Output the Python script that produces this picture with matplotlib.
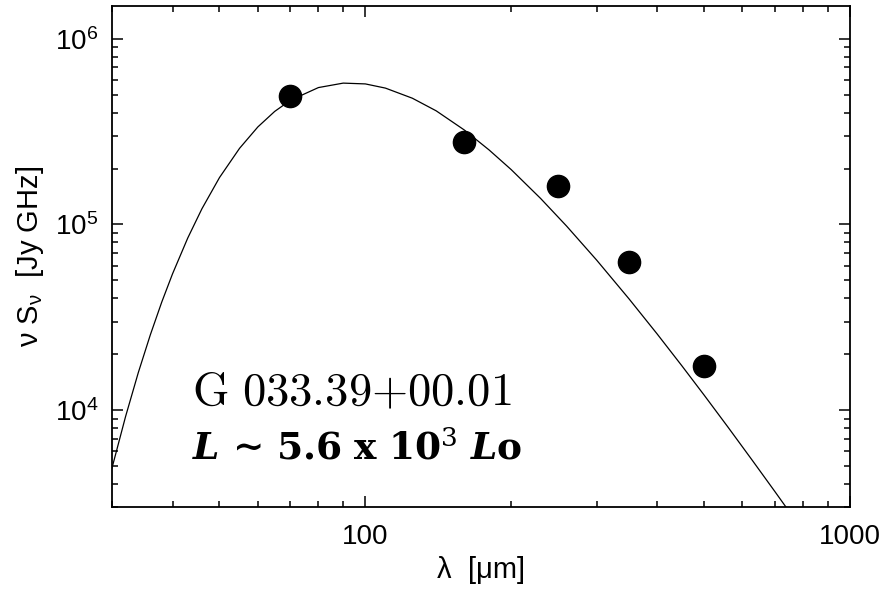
import matplotlib
matplotlib.use('Agg')
import matplotlib.pyplot as plt
from matplotlib.ticker import FixedLocator, FixedFormatter, NullFormatter, LogLocator

plt.rcParams['font.family'] = ['Liberation Sans', 'DejaVu Sans']
plt.rcParams['font.size'] = 20

# measured fluxes
lam_obs = [70, 160, 250, 350, 500]
flux_obs = [4.90e5, 2.77e5, 1.62e5, 6.30e4, 1.73e4]

# fitted SED curve
lam_fit = [30, 32, 34, 36, 38, 40, 43, 46, 50, 55, 60, 65, 70, 80, 90, 100,
           110, 125, 140, 160, 180, 200, 230, 260, 300, 350, 400, 450, 500,
           560, 630, 700, 760]
flux_fit = [4.88e3, 9.24e3, 1.595e4, 2.547e4, 3.817e4, 5.42e4, 8.45e4, 1.215e5,
            1.788e5, 2.569e5, 3.35e5, 4.06e5, 4.656e5, 5.456e5, 5.766e5, 5.709e5,
            5.42e5, 4.782e5, 4.089e5, 3.225e5, 2.518e5, 1.972e5, 1.379e5, 9.815e4,
            6.432e4, 3.974e4, 2.573e4, 1.732e4, 1.206e4, 8.11e3, 5.33e3, 3.645e3,
            2.70e3]

source_name = r'$\mathrm{G\ 033.39{+}00.01}$'
lum_text = (r'$\mathbfit{L}\,\mathbf{\sim}\,\mathbf{5.6\ x\ 10}^{3}'
            r'\ \mathbfit{L}\mathbf{o}$')

fig = plt.figure(figsize=(8.88, 5.93), dpi=100)
ax = fig.add_axes([0.1261, 0.1445, 0.8311, 0.8454])

ax.plot(lam_fit, flux_fit, color='black', lw=0.9)
ax.plot(lam_obs, flux_obs, 'o', color='black', ms=16)

ax.set_xscale('log')
ax.set_yscale('log')
ax.set_xlim(30, 1000)
ax.set_ylim(3.0e3, 1.5e6)

ax.xaxis.set_major_locator(FixedLocator([100, 1000]))
ax.xaxis.set_major_formatter(FixedFormatter(['100', '1000']))
ax.xaxis.set_minor_locator(LogLocator(base=10, subs=range(2, 10)))
ax.xaxis.set_minor_formatter(NullFormatter())
ax.yaxis.set_minor_locator(LogLocator(base=10, subs=range(2, 10)))
ax.yaxis.set_minor_formatter(NullFormatter())

ax.tick_params(which='both', direction='in', top=True, right=True, width=1.1)
ax.tick_params(which='major', length=8)
ax.tick_params(which='minor', length=4.5)
ax.tick_params(axis='x', which='major', pad=12)
ax.tick_params(axis='y', which='major', pad=10)
for s in ax.spines.values():
    s.set_linewidth(1.3)

ax.set_xlabel('λ  [μm]', labelpad=4, fontsize=21)
ax.set_ylabel('ν S$_{\\mathdefault{ν}}$  [Jy GHz]', labelpad=6, fontsize=21)

ax.text(0.109, 0.2035, source_name, transform=ax.transAxes,
        fontsize=33.5, math_fontfamily='cm', va='baseline', ha='left')
ax.text(0.109, 0.0963, lum_text, transform=ax.transAxes,
        fontsize=27, math_fontfamily='dejavuserif', va='baseline', ha='left')

fig.savefig('out.png', dpi=100)
